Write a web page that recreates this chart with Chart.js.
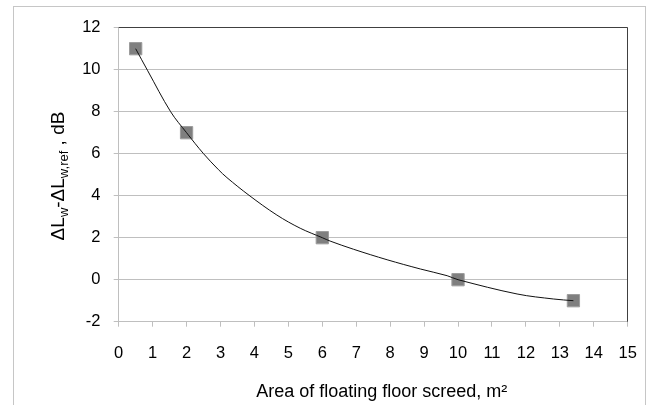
<!DOCTYPE html>
<html>
<head>
<meta charset="utf-8">
<script src="https://cdn.jsdelivr.net/npm/chart.js@4/dist/chart.umd.min.js"></script>
<style>
html,body{margin:0;padding:0;background:#fff;}
#wrap{width:646px;height:405px;}
</style>
</head>
<body>
<div id="wrap"><canvas id="c" width="646" height="405"></canvas></div>
<script>
// measured points
const areaX = [0.5, 2, 6, 10, 13.4];
const deltaY = [11, 7, 2, 0, -1];
// trend curve
const curveX = [0.5, 0.855, 1.53, 2, 2.5, 2.94, 3.19, 3.84, 4.66, 5.35, 6, 6.23, 6.92, 7.91, 8.89, 9.68, 10, 11.74, 12.82, 13.4];
const curveY = [11, 9.95, 8, 7, 6, 5.24, 4.86, 4.02, 3.08, 2.45, 2, 1.84, 1.45, 0.95, 0.51, 0.19, 0, -0.68, -0.92, -1];
// tick labels
const xTicks = [0,1,2,3,4,5,6,7,8,9,10,11,12,13,14,15];
const yTicks = [-2,0,2,4,6,8,10,12];

const xTitle = 'Area of floating floor screed, m\u00B2';
const yTitleParts = [
  {t:'\u0394L', sub:false},
  {t:'w', sub:true},
  {t:'-\u0394L', sub:false},
  {t:'w,ref', sub:true},
  {t:' , dB', sub:false}
];

const FONT = '"Liberation Sans", Arial, sans-serif';

const decor = {
  id: 'decor',
  beforeDraw(chart) {
    const c = chart.ctx;
    c.save();
    c.fillStyle = '#fff';
    c.fillRect(0, 0, chart.width, chart.height);
    c.strokeStyle = '#c6c6c6';
    c.lineWidth = 1;
    c.strokeRect(13.5, 6.5, 632, 430);
    c.restore();
  },
  beforeDatasetsDraw(chart) {
    const a = chart.chartArea, c = chart.ctx;
    c.save();
    c.strokeStyle = '#404040';
    c.lineWidth = 1;
    const ty = Math.floor(a.top) + 0.5;
    const rx = Math.floor(a.right) + 0.5;
    c.beginPath();
    c.moveTo(a.left, ty);
    c.lineTo(rx, ty);
    c.lineTo(rx, a.bottom);
    c.stroke();
    c.restore();
  },
  afterDraw(chart) {
    const c = chart.ctx;
    c.save();
    c.fillStyle = '#000';
    // x title
    c.font = '18px ' + FONT;
    c.textAlign = 'center';
    c.textBaseline = 'alphabetic';
    c.fillText(xTitle, 381.7, 396.5);
    // y title with subscripts
    const mainF = '19px ' + FONT, subF = '13px ' + FONT;
    let total = 0;
    yTitleParts.forEach(p => { c.font = p.sub ? subF : mainF; p.w = c.measureText(p.t).width; total += p.w; });
    c.translate(64, 176);
    c.rotate(-Math.PI / 2);
    c.textAlign = 'left';
    let x = -total / 2;
    yTitleParts.forEach(p => {
      c.font = p.sub ? subF : mainF;
      c.fillText(p.t, x, p.sub ? 4 : 0);
      x += p.w;
    });
    c.restore();
  }
};

new Chart(document.getElementById('c'), {
  type: 'scatter',
  data: {
    datasets: [
      {
        data: curveX.map((x, i) => ({x, y: curveY[i]})),
        showLine: true,
        pointRadius: 0,
        borderColor: '#111',
        borderWidth: 1,
        tension: 0.35,
        fill: false
      },
      {
        data: areaX.map((x, i) => ({x, y: deltaY[i]})),
        pointStyle: 'rect',
        pointRadius: 8.7,
        backgroundColor: '#7f7f7f',
        borderColor: '#9c9c9c',
        borderWidth: 1,
        showLine: false
      }
    ]
  },
  options: {
    responsive: false,
    animation: false,
    devicePixelRatio: 1,
    layout: { padding: { left: 0, right: 18.3, top: 27.7, bottom: 0 } },
    plugins: { legend: { display: false }, tooltip: { enabled: false } },
    scales: {
      x: {
        type: 'linear',
        min: xTicks[0],
        max: xTicks[xTicks.length - 1],
        afterFit(s) { s.height = 83.3; s.paddingLeft = 0; s.paddingRight = 0; },
        ticks: {
          stepSize: xTicks[1] - xTicks[0],
          color: '#000',
          font: { family: FONT, size: 16.5 },
          padding: 16.4,
          maxRotation: 0,
          autoSkip: false
        },
        grid: { drawOnChartArea: false, drawTicks: true, tickLength: 5, color: '#bfbfbf' },
        border: { color: '#bfbfbf' }
      },
      y: {
        type: 'linear',
        min: yTicks[0],
        max: yTicks[yTicks.length - 1],
        afterFit(s) { s.width = 118.7; },
        ticks: {
          stepSize: yTicks[1] - yTicks[0],
          color: '#000',
          font: { family: FONT, size: 16.5 },
          padding: 13.2
        },
        grid: { drawOnChartArea: true, drawTicks: true, tickLength: 5, color: '#bfbfbf' },
        border: { color: '#bfbfbf' }
      }
    }
  },
  plugins: [decor]
});
</script>
</body>
</html>
